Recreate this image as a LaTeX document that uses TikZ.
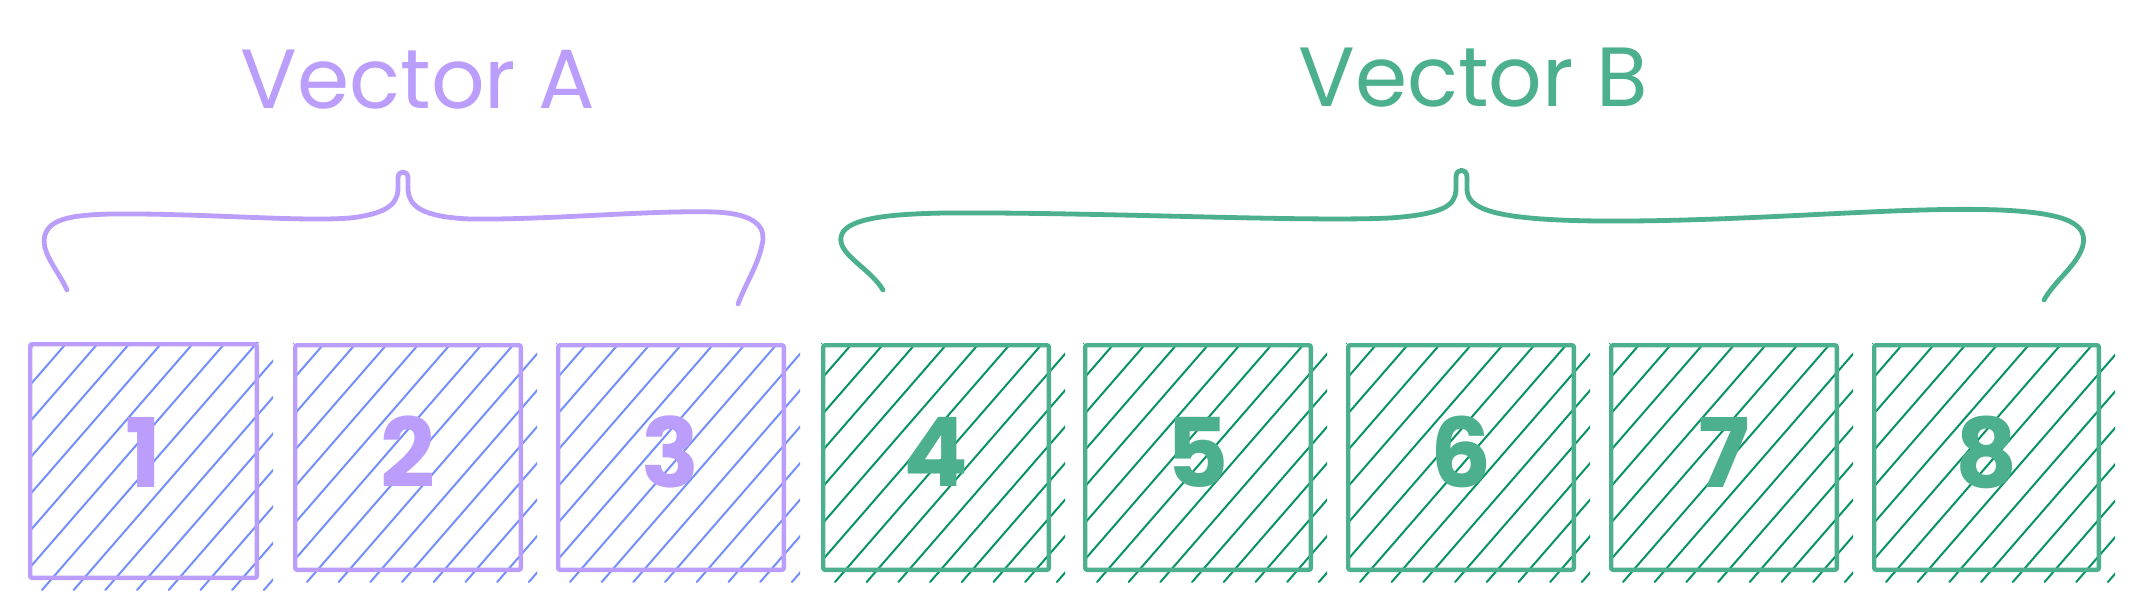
\documentclass[tikz,border=0pt]{standalone}
\usepackage{fontspec}
\setmainfont{Poppins}
\definecolor{vio}{HTML}{BB9EFC}
\definecolor{vioh}{HTML}{748FFC}
\definecolor{grn}{HTML}{4CAF8E}
\definecolor{grnh}{HTML}{099268}
\newcommand\vecbox[8]{%
  \begin{scope}
    \clip (#2,#3) rectangle ({#4+14},{#5+10});
    \foreach \k in {-9,...,8}
      \draw[hatchline,#7] ({#2+14+31.7*\k},{#5+10}) -- ++(300,-345);
  \end{scope}
  \node[boxline, draw=#6, anchor=north west,
        minimum width={#4-#2-4.3}, minimum height={#5-#3-4.3}]
        (#1) at ({#2+2.15},{#3+2.15}) {};
  \node[dig, text=#6] (#1d) at ({(#2+#4)/2},452) {#8};
}
\begin{document}
\begin{tikzpicture}[x=1pt,y=-1pt,
  boxline/.style={rectangle, line width=4.3pt, rounded corners=2pt, inner sep=0pt, outer sep=0pt},
  hatchline/.style={line width=2pt, line cap=round},
  brace/.style={line width=4.8pt, line cap=round, line join=round},
  lbl/.style={font=\fontsize{84}{84}\selectfont, inner sep=0pt},
  dig/.style={font=\fontsize{96}{96}\selectfont\bfseries, inner sep=0pt}]
\fill[white] (0,0) rectangle (2130,614);
\useasboundingbox (0,0) rectangle (2130,614);

% labels
\node[lbl, text=vio] (lblA) at (418,80) {Vector A};
\node[lbl, text=grn] (lblB) at (1473,78) {Vector B};

% braces
\draw[brace, vio] (67,290) .. controls (58,270) and (40,252) .. (45,235)
  .. controls (50,218) and (75,215) .. (110,214)
  .. controls (200,213) and (300,222) .. (350,218)
  .. controls (385,214) and (397,205) .. (398,190)
  -- (398,178) .. controls (398,170) and (408,170) .. (408,178)
  -- (408,190) .. controls (409,205) and (420,217) .. (470,219)
  .. controls (550,220) and (650,210) .. (715,212)
  .. controls (760,214) and (766,230) .. (762,245)
  .. controls (758,265) and (745,285) .. (738,304);
\draw[brace, grn] (883,290) .. controls (870,268) and (838,255) .. (841,237)
  .. controls (844,220) and (880,214) .. (945,213)
  .. controls (1100,212) and (1300,222) .. (1390,218)
  .. controls (1445,214) and (1455,205) .. (1456,190)
  -- (1456,177) .. controls (1456,168) and (1467,168) .. (1467,177)
  -- (1467,190) .. controls (1468,208) and (1490,220) .. (1600,221)
  .. controls (1750,222) and (1900,206) .. (2000,210)
  .. controls (2070,213) and (2087,225) .. (2083,245)
  .. controls (2078,265) and (2055,280) .. (2044,300);

% boxes
\vecbox{b1}{28}{342}{259}{580}{vio}{vioh}{1}
\vecbox{b2}{293}{343}{523}{572}{vio}{vioh}{2}
\vecbox{b3}{556}{343}{786}{572}{vio}{vioh}{3}
\vecbox{b4}{821}{343}{1051}{572}{grn}{grnh}{4}
\vecbox{b5}{1083}{343}{1313}{572}{grn}{grnh}{5}
\vecbox{b6}{1346}{343}{1576}{572}{grn}{grnh}{6}
\vecbox{b7}{1609}{343}{1839}{572}{grn}{grnh}{7}
\vecbox{b8}{1872}{343}{2101}{572}{grn}{grnh}{8}
\end{tikzpicture}
\end{document}
